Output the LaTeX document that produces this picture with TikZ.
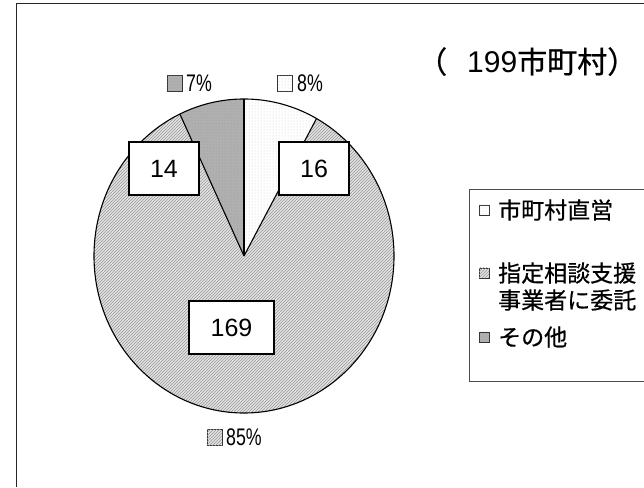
\documentclass[tikz,border=0pt]{standalone}
\usepackage{fontspec}
\usepackage{graphicx}
\setmainfont{Liberation Sans}
\newfontfamily\jp[FakeBold=0.6]{Noto Sans CJK JP}
\usetikzlibrary{patterns}
\begin{document}
\begin{tikzpicture}[x=1pt,y=1pt,
  hatchfill/.style={fill=gray!22, postaction={pattern=north east lines, pattern color=gray!80}},
  dotfill/.style={fill=white, postaction={pattern=dots, pattern color=gray!40}},
  grayfill/.style={fill=gray!62, postaction={pattern=dots, pattern color=gray!80}},
  slice/.style={draw=black, line width=1.1pt},
  numbox/.style={draw=black, line width=1.2pt, fill=white, minimum width=70pt, minimum height=53pt, inner sep=0pt, font=\fontsize{25}{25}\selectfont},
  pctsq/.style={draw=black!80, line width=0.8pt, minimum width=15pt, minimum height=16pt, inner sep=0pt},
  pcttext/.style={anchor=west, inner sep=0pt, font=\fontsize{24}{24}\selectfont},
  legsq/.style={draw=black!80, line width=0.8pt, minimum size=10pt, inner sep=0pt},
  legtext/.style={anchor=west, inner sep=0pt, align=left, font=\jp\fontsize{23}{27}\selectfont},
  frameline/.style={draw=black!85, line width=1.5pt},
  legframe/.style={draw=black!70, line width=1pt}
]
\useasboundingbox (0,0) rectangle (644,487);
\draw[frameline] (16.5,0) -- (16.5,483.5) -- (644,483.5);

% pie
\coordinate (c) at (244,231);
\path[hatchfill] (c) -- +({150*cos(61.1)},{157*sin(61.1)}) arc[start angle=61.1, end angle=-244.7, x radius=150, y radius=157] -- cycle;
\path[dotfill] (c) -- +(0,157) arc[start angle=90, end angle=61.1, x radius=150, y radius=157] -- cycle;
\path[grayfill] (c) -- +({150*cos(115.3)},{157*sin(115.3)}) arc[start angle=115.3, end angle=90, x radius=150, y radius=157] -- cycle;
\draw[slice] (c) ellipse[x radius=150, y radius=157];
\draw[slice] (c) -- +(0,157);
\draw[slice] (c) -- +({150*cos(61.1)},{157*sin(61.1)});
\draw[slice] (c) -- +({150*cos(115.3)},{157*sin(115.3)});

% value boxes
\node[numbox] (n14) at (164,318.5) {14};
\node[numbox] (n16) at (314,318.5) {16};
\node[numbox, minimum width=85pt] (n169) at (231.5,159.5) {169};

% percent labels
\node[pctsq, grayfill] (s7) at (174.5,403.5) {};
\node[pcttext] (t7) at (186,403.5) {\scalebox{0.74}[1]{7\%}};
\node[pctsq, dotfill] (s8) at (284.5,403.5) {};
\node[pcttext] (t8) at (297,403.5) {\scalebox{0.74}[1]{8\%}};
\node[pctsq, hatchfill] (s85) at (214.5,50) {};
\node[pcttext] (t85) at (226,50) {\scalebox{0.74}[1]{85\%}};

% title
\node[anchor=base west, inner sep=0pt, font=\fontsize{30}{30}\selectfont] (title) at (417,414) {{\jp （}\hspace{20pt}199{\jp 市町村）}};

% legend
\draw[legframe] (644,297) -- (469.5,297) -- (469.5,106) -- (644,106);
\node[legsq, dotfill] (l1) at (484,277) {};
\node[legtext] (lt1) at (498,277) {市町村直営};
\node[legsq, hatchfill] (l2) at (484,214) {};
\node[legtext] (lt2) at (498,200.5) {指定相談支援\\事業者に委託};
\node[legsq, grayfill] (l3) at (484,150) {};
\node[legtext] (lt3) at (498,150) {その他};
\end{tikzpicture}
\end{document}
